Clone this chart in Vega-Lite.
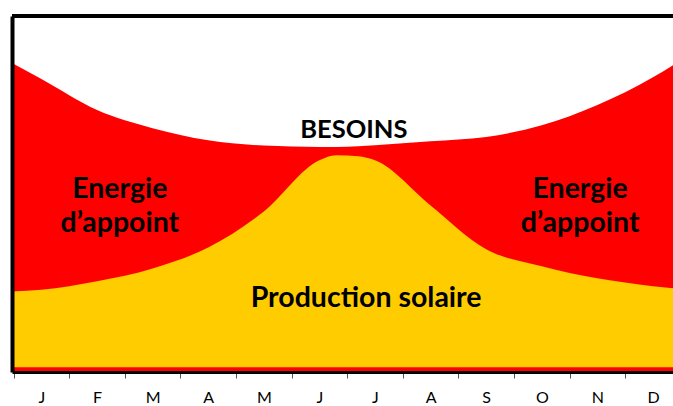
{
  "$schema": "https://vega.github.io/schema/vega-lite/v6.json",
  "width": 661,
  "height": 356,
  "autosize": "none",
  "padding": {"left": 12, "top": 16, "right": 0, "bottom": 34},
  "background": "white",
  "config": {"view": {"stroke": null}},
  "datasets": {
    "curves": [
      {"mois": -0.029, "besoins": 86.8, "solaire": 22.6},
      {"mois": 0.5, "besoins": 82.3, "solaire": 23.1},
      {"mois": 1.5, "besoins": 73.6, "solaire": 25.5},
      {"mois": 2.5, "besoins": 68.5, "solaire": 29.1},
      {"mois": 3.5, "besoins": 65.1, "solaire": 35.0},
      {"mois": 4.5, "besoins": 63.6, "solaire": 45.1},
      {"mois": 5.5, "besoins": 63.2, "solaire": 59.5},
      {"mois": 5.8, "besoins": 63.2, "solaire": 60.9},
      {"mois": 6.2, "besoins": 63.4, "solaire": 60.6},
      {"mois": 6.5, "besoins": 63.7, "solaire": 59.5},
      {"mois": 7.5, "besoins": 64.8, "solaire": 46.8},
      {"mois": 8.5, "besoins": 66.0, "solaire": 34.5},
      {"mois": 9.5, "besoins": 69.3, "solaire": 29.7},
      {"mois": 10.5, "besoins": 75.0, "solaire": 26.3},
      {"mois": 11.5, "besoins": 82.8, "solaire": 24.1},
      {"mois": 11.86, "besoins": 86.2, "solaire": 23.5}
    ],
    "labels": [
      {"texte": "Energie", "x": 1.91, "y": 48.8, "groupe": "appoint"},
      {"texte": "d’appoint", "x": 1.91, "y": 39.3, "groupe": "appoint"},
      {"texte": "Energie", "x": 10.19, "y": 48.8, "groupe": "appoint"},
      {"texte": "d’appoint", "x": 10.19, "y": 39.3, "groupe": "appoint"},
      {"texte": "Production solaire", "x": 6.34, "y": 18.2, "groupe": "appoint"},
      {"texte": "BESOINS", "x": 6.12, "y": 65.7, "groupe": "besoins"}
    ],
    "cadre": [{"haut": 100}]
  },
  "layer": [
    {
      "data": {"name": "curves"},
      "mark": {"type": "area", "color": "#FF0000", "interpolate": "monotone"},
      "encoding": {
        "x": {
          "field": "mois", "type": "quantitative",
          "scale": {"domain": [-0.029, 11.86], "nice": false, "zero": false},
          "axis": {
            "values": [0, 1, 2, 3, 4, 5, 6, 7, 8, 9, 10, 11],
            "labelExpr": "['J','F','M','A','M','J','J','A','S','O','N','D'][datum.value]",
            "labelOffset": 27.8,
            "tickSize": 6, "tickColor": "#555555", "tickWidth": 1,
            "domainColor": "black", "domainWidth": 3,
            "labelFont": "Lato", "labelFontSize": 16, "labelColor": "black",
            "labelPadding": 11, "grid": false, "title": null, "zindex": 1,
            "labelFlush": false, "labelOverlap": false, "labelBound": false
          }
        },
        "y": {
          "field": "besoins", "type": "quantitative",
          "scale": {"domain": [0, 100], "nice": false},
          "axis": {
            "domain": true, "domainColor": "black", "domainWidth": 4,
            "ticks": false, "labels": false, "grid": false, "title": null, "zindex": 1
          }
        }
      }
    },
    {
      "data": {"name": "curves"},
      "mark": {"type": "area", "color": "#FFCC00", "interpolate": "monotone"},
      "encoding": {
        "x": {"field": "mois", "type": "quantitative", "scale": {"domain": [-0.029, 11.86], "nice": false, "zero": false}},
        "y": {"field": "solaire", "type": "quantitative", "scale": {"domain": [0, 100], "nice": false}},
        "y2": {"datum": 1.3}
      }
    },
    {
      "data": {"name": "cadre"},
      "mark": {"type": "rule", "color": "black", "strokeWidth": 4},
      "encoding": {"y": {"field": "haut", "type": "quantitative", "scale": {"domain": [0, 100], "nice": false}}}
    },
    {
      "data": {"name": "labels"},
      "transform": [{"filter": "datum.groupe === 'appoint'"}],
      "mark": {"type": "text", "font": "Lato", "fontWeight": "bold", "fontSize": 28.5, "baseline": "alphabetic", "align": "center", "color": "black"},
      "encoding": {
        "x": {"field": "x", "type": "quantitative", "scale": {"domain": [-0.029, 11.86], "nice": false, "zero": false}},
        "y": {"field": "y", "type": "quantitative", "scale": {"domain": [0, 100], "nice": false}},
        "text": {"field": "texte"}
      }
    },
    {
      "data": {"name": "labels"},
      "transform": [{"filter": "datum.groupe === 'besoins'"}],
      "mark": {"type": "text", "font": "Lato", "fontWeight": "bold", "fontSize": 25.5, "baseline": "alphabetic", "align": "center", "color": "black"},
      "encoding": {
        "x": {"field": "x", "type": "quantitative", "scale": {"domain": [-0.029, 11.86], "nice": false, "zero": false}},
        "y": {"field": "y", "type": "quantitative", "scale": {"domain": [0, 100], "nice": false}},
        "text": {"field": "texte"}
      }
    }
  ]
}
